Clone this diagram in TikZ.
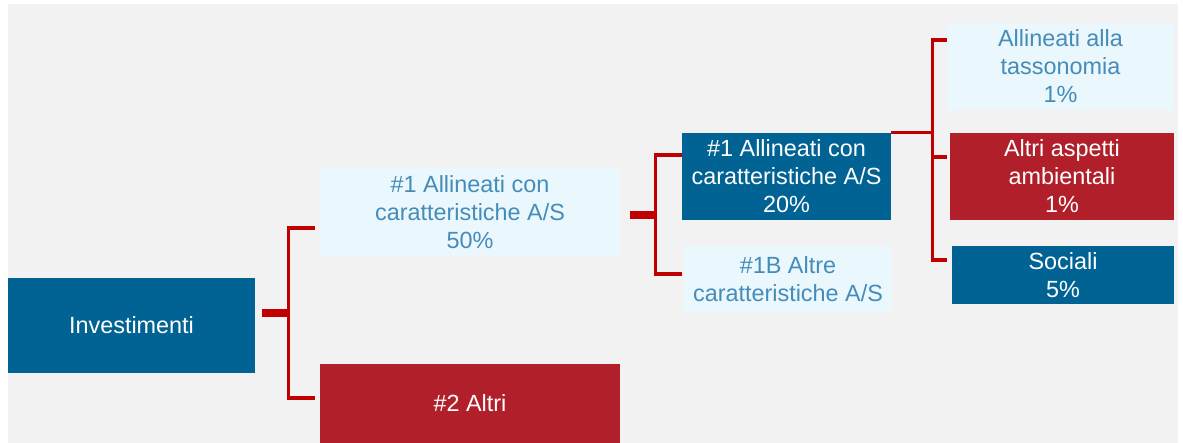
\documentclass[tikz,border=0pt]{standalone}
\usepackage{fontspec}
\setmainfont{Liberation Sans}
\usetikzlibrary{calc}
\definecolor{esgblue}{RGB}{0,99,148}
\definecolor{esgred}{RGB}{176,31,42}
\definecolor{esglight}{RGB}{234,247,253}
\definecolor{esgtext}{RGB}{70,140,185}
\definecolor{esgline}{RGB}{192,0,0}
\definecolor{esgbg}{RGB}{242,242,242}

\begin{document}
\begin{tikzpicture}[x=0.5pt,y=-0.5pt,
  every node/.style={font=\fontsize{11.7}{14}\selectfont,align=center,inner sep=0pt},
  box/.style n args={2}{minimum width=#1*0.5pt,minimum height=#2*0.5pt},
  darkbox/.style={fill=esgblue,text=white},
  redbox/.style={fill=esgred,text=white},
  lightbox/.style={fill=esglight,text=esgtext},
  link/.style={esgline,line width=1.6pt},
  stub/.style={esgline,line width=4pt}]
% background
\useasboundingbox (0,0) rectangle (1183,443);
\fill[white] (0,0) rectangle (1183,443);
\fill[esgbg] (8,4) rectangle (1178,443);
% boxes
\node[darkbox,box={247}{95}] (inv) at (131.5,325.5) {Investimenti};
\node[lightbox,box={300}{88}] (a50) at (470,212) {\#1 Allineati con\\caratteristiche A/S\\50\%};
\node[redbox,box={300}{79}] (alt) at (470,403.5) {\#2 Altri};
\node[darkbox,box={209}{87}] (a20) at (786.5,176.5) {\#1 Allineati con\\caratteristiche A/S\\20\%};
\node[lightbox,box={208}{66}] (b1) at (788,279) {\#1B Altre\\caratteristiche A/S};
\node[lightbox,box={227}{87}] (tax) at (1060.5,66.5) {Allineati alla\\tassonomia\\1\%};
\node[redbox,box={224}{87}] (amb) at (1062,176.5) {Altri aspetti\\ambientali\\1\%};
\node[darkbox,box={222}{58}] (soc) at (1063,275) {Sociali\\5\%};
% level 1
\draw[stub] ([xshift=3.5pt,yshift=6.25pt]inv.east) -- ++(26,0) coordinate (j1);
\draw[link] ([xshift=-2.5pt,yshift=-8pt]a50.west) -| (j1) |- ([xshift=-2.5pt,yshift=2.75pt]alt.west);
% level 2
\draw[stub] ([xshift=5pt,yshift=-1.5pt]a50.east) -- ++(25,0) coordinate (j2);
\draw[link] ([yshift=10.75pt]a20.west) -| (j2) |- ([xshift=-1pt,yshift=2.5pt]b1.west);
% level 3
\draw[link] (a20.north east) -- ++(41,0) coordinate (j3);
\draw[link] ([yshift=13.25pt]tax.west) -| (j3) |- ([xshift=-2.5pt,yshift=7.5pt]soc.west);
\draw[link] ([xshift=-1.5pt,yshift=9.75pt]amb.west) -| (j3);
\end{tikzpicture}
\end{document}
